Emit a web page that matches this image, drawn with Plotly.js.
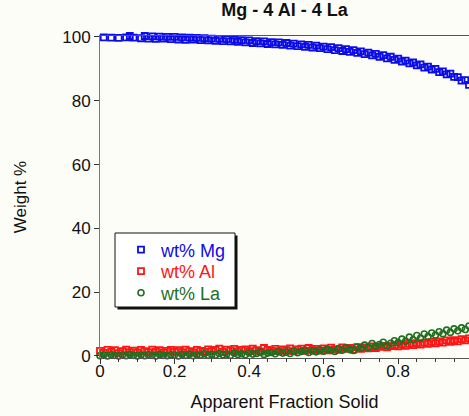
<!DOCTYPE html>
<html>
<head>
<meta charset="utf-8">
<script src="https://cdn.plot.ly/plotly-3.0.1.min.js"></script>
<style>html,body{margin:0;padding:0;background:#fdfdf8;}#chart{width:469px;height:416px;}</style>
</head>
<body>
<div id="chart"></div>
<script>
var fractionSolid = [0.00,0.01,0.02,0.03,0.04,0.05,0.06,0.07,0.08,0.09,
0.10,0.11,0.12,0.13,0.14,0.15,0.16,0.17,0.18,0.19,
0.20,0.21,0.22,0.23,0.24,0.25,0.26,0.27,0.28,0.29,
0.30,0.31,0.32,0.33,0.34,0.35,0.36,0.37,0.38,0.39,
0.40,0.41,0.42,0.43,0.44,0.45,0.46,0.47,0.48,0.49,
0.50,0.51,0.52,0.53,0.54,0.55,0.56,0.57,0.58,0.59,
0.60,0.61,0.62,0.63,0.64,0.65,0.66,0.67,0.68,0.69,
0.70,0.71,0.72,0.73,0.74,0.75,0.76,0.77,0.78,0.79,
0.80,0.81,0.82,0.83,0.84,0.85,0.86,0.87,0.88,0.89,
0.90,0.91,0.92,0.93,0.94,0.95,0.96,0.97,0.98,0.99];

var wtMg = [100.6,99.9,100.5,99.8,100.4,99.7,100.5,99.9,100.3,99.8,
100.4,99.6,100.3,99.5,100.2,99.4,100.1,99.5,100.0,99.3,
100.0,99.2,99.9,99.1,99.8,99.2,99.7,99.0,99.6,98.9,
99.5,98.8,99.4,98.7,99.3,98.6,99.1,98.5,99.0,98.3,
98.9,98.1,98.7,98.0,98.6,97.8,98.4,97.7,98.3,97.5,
98.1,97.3,97.9,97.1,97.7,96.9,97.5,96.7,97.3,96.5,
97.0,96.2,96.8,95.9,96.5,95.6,96.2,95.3,95.9,95.0,
95.5,94.6,95.1,94.2,94.7,93.8,94.3,93.3,93.8,92.8,
93.2,92.3,92.6,91.7,92.0,91.1,91.4,90.4,90.7,89.8,
90.0,89.0,89.2,88.3,88.5,87.5,87.4,86.3,86.5,85.0];

var wtAl = [1.6,1.0,1.9,1.3,1.8,0.9,1.5,2.0,1.2,1.7,
1.1,1.9,1.5,1.2,2.0,1.3,1.8,1.1,1.6,1.9,
1.3,1.8,1.2,2.0,1.5,1.1,1.9,1.6,1.3,2.1,
1.5,1.9,2.3,1.3,2.0,1.7,2.2,1.4,1.9,2.1,
1.5,2.3,1.8,1.4,2.5,1.9,1.6,2.2,1.5,2.1,
1.8,2.4,1.5,2.1,2.3,1.6,2.5,1.9,2.2,1.7,
2.4,1.8,2.6,2.1,1.9,2.7,2.2,2.5,2.0,2.8,
2.2,2.7,2.4,3.0,2.5,2.9,3.2,2.7,3.1,3.4,
3.0,3.6,3.2,3.8,3.4,4.0,3.6,4.2,3.8,4.4,
4.0,4.6,4.2,4.9,4.4,5.0,4.6,5.3,4.9,5.5];

var wtLa = [0.1,0.3,0.0,0.4,0.2,0.0,0.3,0.1,0.5,0.2,
0.0,0.3,0.1,0.4,0.2,0.0,0.5,0.2,0.1,0.4,
0.3,0.0,0.5,0.2,0.6,0.1,0.4,0.3,0.7,0.2,
0.5,0.3,0.8,0.4,0.6,0.2,0.9,0.5,0.7,0.4,
1.0,0.6,0.8,1.2,0.5,0.9,1.1,0.7,1.3,0.9,
1.2,0.8,1.5,1.0,1.4,1.7,1.1,1.6,1.3,1.9,
1.5,2.1,1.7,1.4,2.3,1.8,2.6,2.0,1.7,2.8,
2.4,3.4,2.7,3.9,3.1,3.6,4.3,3.3,4.0,4.8,
4.2,5.3,4.6,5.9,5.1,6.4,5.6,6.9,6.1,7.2,
6.6,7.6,7.0,8.1,7.4,8.5,7.9,8.8,8.3,9.4];

var seriesNames = ['wt% Mg', 'wt% Al', 'wt% La'];
var xTickVals = [0, 0.2, 0.4, 0.6, 0.8];
var xTickText = ['0', '0.2', '0.4', '0.6', '0.8'];
var yTickVals = [0, 20, 40, 60, 80, 100];

var cMg = '#0c0ce8', cAl = '#ff1414', cLa = '#1f6f1f';

function label(name, c){ return '<span style="color:' + c + '">' + name + '</span>'; }

var traces = [
  {x: fractionSolid, y: wtAl, name: label(seriesNames[1], cAl), legend: 'legend2', type: 'scatter', mode: 'markers', cliponaxis: false,
   marker: {symbol: 'square-open', size: 6, color: cAl, line: {width: 1.8}}},
  {x: fractionSolid, y: wtLa, name: label(seriesNames[2], cLa), legend: 'legend3', type: 'scatter', mode: 'markers', cliponaxis: false,
   marker: {symbol: 'circle-open', size: 6, color: cLa, line: {width: 1.6}}},
  {x: fractionSolid, y: wtMg, name: label(seriesNames[0], cMg), legend: 'legend', type: 'scatter', mode: 'markers', cliponaxis: false,
   marker: {symbol: 'square-open', size: 6, color: cMg, line: {width: 1.8}}}
];

function px(x){ return (x - 100) / 369; }
function py(y){ return (358 - y) / 322; }

function legendAt(yCenter){
  return {x: px(121), y: py(yCenter), xanchor: 'left', yanchor: 'middle', bgcolor: 'rgba(0,0,0,0)', borderwidth: 0,
          font: {size: 18}};
}

var layout = {
  width: 469, height: 416,
  paper_bgcolor: '#fdfdf8', plot_bgcolor: '#fdfdf8',
  margin: {l: 100, r: 0, t: 36, b: 58},
  font: {family: 'Arial, "Liberation Sans", sans-serif', color: '#111', size: 17},
  title: {text: '<b>Mg - 4 Al - 4 La</b>', x: 0.5, xref: 'paper', y: 1, yref: 'container', yanchor: 'top', pad: {t: 3},
          font: {size: 18, color: '#111'}},
  showlegend: true,
  legend: legendAt(250),
  legend2: legendAt(271.5),
  legend3: legendAt(293),
  xaxis: {range: [0, 0.99], tickvals: xTickVals, ticktext: xTickText, ticks: 'outside', ticklen: 5, tickcolor: '#333',
          showline: true, linecolor: '#555', linewidth: 1, mirror: true, showgrid: false, zeroline: false,
          minor: {dtick: 0.05, ticks: 'outside', ticklen: 3, tickcolor: '#333'},
          tickfont: {size: 17, color: '#111'}, ticklabelstandoff: -7,
          title: {text: 'Apparent Fraction Solid', font: {size: 18, color: '#111'}, standoff: 14}},
  yaxis: {range: [-0.63, 100.3], tickvals: yTickVals, ticks: 'outside', ticklen: 5, tickcolor: '#333',
          showline: true, linecolor: '#777', linewidth: 1, showgrid: false, zeroline: false,
          tickfont: {size: 17, color: '#111'},
          title: {text: 'Weight %', font: {size: 17, color: '#111'}, standoff: 31}},
  shapes: [
    {type: 'rect', xref: 'paper', yref: 'paper', x0: px(117.5), x1: px(237.5), y0: py(309.5), y1: py(235.5),
     fillcolor: '#111', line: {width: 0}, layer: 'above'},
    {type: 'rect', xref: 'paper', yref: 'paper', x0: px(115), x1: px(235), y0: py(307), y1: py(233),
     fillcolor: '#ffffff', line: {width: 1, color: '#111'}, layer: 'above'}
  ]
};

Plotly.newPlot('chart', traces, layout, {displayModeBar: false, staticPlot: true});
</script>
</body>
</html>
